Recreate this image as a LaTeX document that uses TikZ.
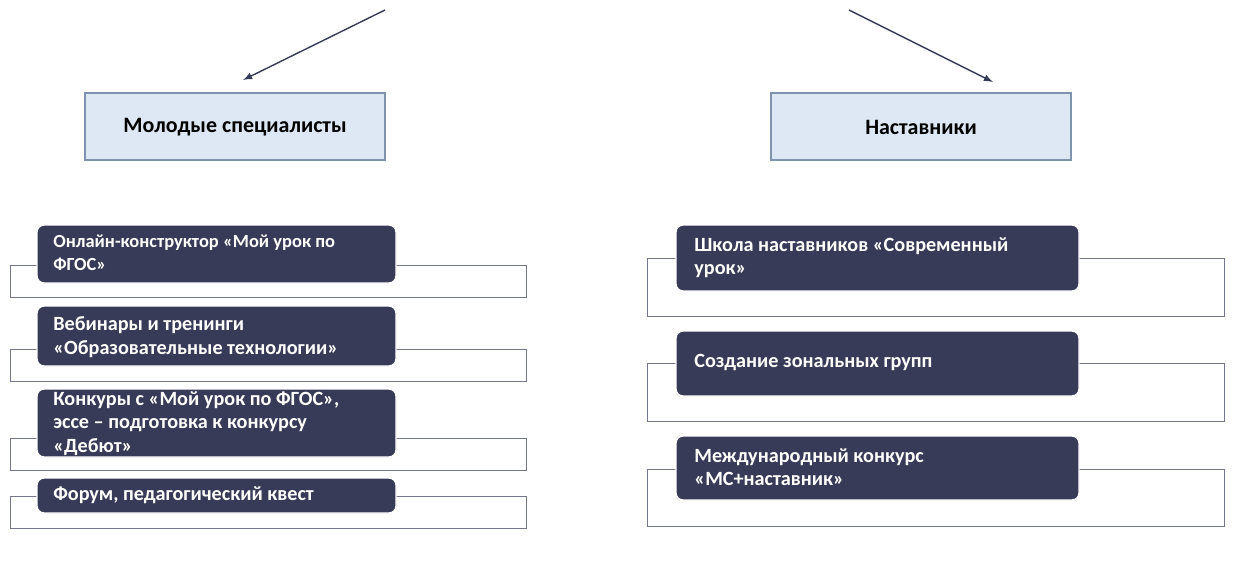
\documentclass[tikz,border=0pt]{standalone}
\usepackage{fontspec}
\setmainfont{Carlito}
\tikzset{>=latex}
\definecolor{dark}{HTML}{383B57}
\definecolor{head}{HTML}{DDE8F4}
\definecolor{edge}{HTML}{7F93AC}
\tikzset{
  frame/.style={draw=dark!70,line width=0.5pt,fill=white},
  card/.style={draw=white,fill=dark,rounded corners=4pt,line width=0.8pt},
  cardtext/.style={anchor=north west,inner sep=0pt,text=white,align=left,
    font=\bfseries\fontsize{11.5}{13.5}\selectfont},
  headbox/.style={draw=edge,fill=head,line width=0.6pt},
  headtext/.style={font=\bfseries\fontsize{12.5}{15}\selectfont}
}
\begin{document}
\begin{tikzpicture}[x=0.02cm,y=-0.02cm]
  \useasboundingbox (0,0) rectangle (1237,562);
  % arrows from the top
  \coordinate (la) at (385,10);
  \coordinate (lb) at (243,80);
  \coordinate (ra) at (849,10);
  \coordinate (rb) at (993,82);
  \draw[->,dark,line width=0.8pt] (la) -- (lb);
  \draw[->,dark,line width=0.8pt] (ra) -- (rb);
  % headers
  \draw[headbox] (85,93) rectangle (385,160);
  \node[headtext] (young) at (235,127) {Молодые специалисты};
  \draw[headbox] (771,93) rectangle (1071,160);
  \node[headtext] (mentors) at (921,127) {Наставники};
  % left column
  \draw[frame] (10,265) rectangle (526,297);
  \draw[card] (37,225) rectangle (396,283);
  \node[cardtext,font=\bfseries\fontsize{10.5}{13}\selectfont] (l1) at (53,235) {Онлайн-конструктор «Мой урок по\\ФГОС»};
  \draw[frame] (10,349) rectangle (526,381);
  \draw[card] (37,306) rectangle (396,366);
  \node[cardtext] (l2) at (53,316) {Вебинары и тренинги\\«Образовательные технологии»};
  \draw[frame] (10,438) rectangle (526,470);
  \draw[card] (37,389) rectangle (396,457);
  \node[cardtext] (l3) at (53,391) {Конкуры с «Мой урок по ФГОС»,\\эссе – подготовка к конкурсу\\«Дебют»};
  \draw[frame] (10,496) rectangle (526,528);
  \draw[card] (37,478) rectangle (396,513);
  \node[cardtext] (l4) at (53,486) {Форум, педагогический квест};
  % right column
  \draw[frame] (647,258) rectangle (1224,316);
  \draw[card] (676,225) rectangle (1079,291);
  \node[cardtext] (r1) at (694,237) {Школа наставников «Современный\\урок»};
  \draw[frame] (647,363) rectangle (1224,421);
  \draw[card] (676,331) rectangle (1079,396);
  \node[cardtext] (r2) at (694,354) {Создание зональных групп};
  \draw[frame] (647,469) rectangle (1224,526);
  \draw[card] (676,436) rectangle (1079,500);
  \node[cardtext] (r3) at (694,448) {Международный конкурс\\«МС+наставник»};
\end{tikzpicture}
\end{document}
